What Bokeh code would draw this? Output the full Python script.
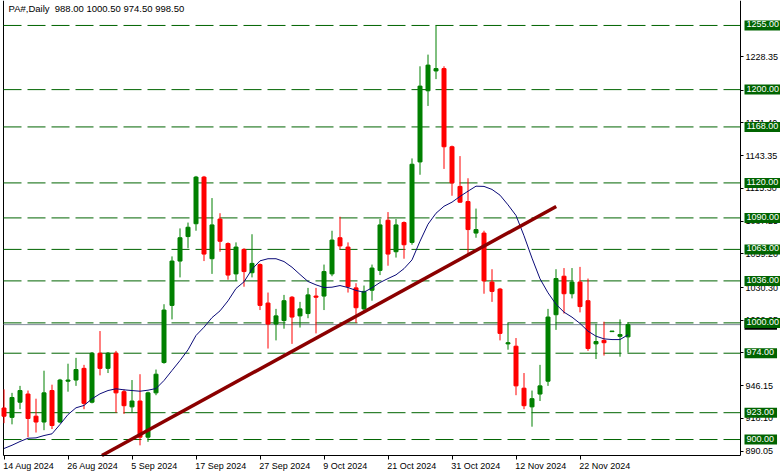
from bokeh.plotting import figure
from bokeh.models import Range1d, FixedTicker, PrintfTickFormatter, Label, ColumnDataSource, LinearAxis
from bokeh.core.properties import value
from bokeh.embed import file_html
from bokeh.resources import INLINE

symbol = "PA#,Daily"
tick_bars = [0, 8, 16, 24, 32, 40, 48, 56, 64, 72]
tick_labels = ["14 Aug 2024", "26 Aug 2024", "5 Sep 2024", "17 Sep 2024", "27 Sep 2024",
               "9 Oct 2024", "21 Oct 2024", "31 Oct 2024", "12 Nov 2024", "22 Nov 2024"]

opens = [927, 919, 932, 939, 920, 915, 942, 915, 950, 951,
         961, 932, 974, 961, 974, 941, 928, 933, 902, 940,
         966, 1015, 1053, 1074, 1085, 1125, 1055, 1089, 1068, 1042,
         1063, 1043, 1050, 1017, 999, 1002, 1022, 1006, 1008, 1023,
         1023, 1042, 1073, 1065, 1030, 1012, 1028, 1045, 1088, 1061,
         1086, 1069, 1138, 1199, 1216, 1218, 1151, 1117, 1104, 1077,
         1077, 1035, 1029, 982, 980, 944, 928, 939, 950, 1007,
         1040, 1025, 1035, 1019, 982, 985, 992.5, 988.5, 988.0]
highs = [943, 940, 946, 942, 935, 959, 947, 952, 965, 970,
         964, 975, 993, 975, 976, 943, 951, 956, 941, 960,
         1016, 1057, 1081, 1086, 1126, 1126, 1107, 1094, 1069, 1069,
         1064, 1076, 1051, 1026, 1012, 1024, 1023, 1018, 1030, 1030,
         1050, 1079, 1091, 1069, 1034, 1032, 1050, 1089, 1095, 1089,
         1087, 1141, 1220, 1230, 1255, 1220, 1152, 1143, 1124, 1098,
         1079, 1046, 1030, 1000, 987, 957, 942, 964, 1012, 1046,
         1047, 1047, 1048, 1038, 999, 1001, 993, 1003, 1000.5]
lows = [914, 913, 926, 902, 906, 908, 909, 914, 941, 946,
        926, 931, 955, 957, 923, 922, 923, 895, 898, 938,
        965, 1003, 1039, 1064, 1079, 1053, 1042, 1061, 1037, 1036,
        1031, 1039, 1011, 978, 985, 995, 982, 996, 1004, 991,
        1011, 1040, 1063, 1026, 1000, 1009, 1019, 1041, 1049, 1056,
        1055, 1067, 1127, 1186, 1209, 1132, 1109, 1103, 1058, 1073,
        1025, 1018, 985, 977, 938, 926, 911, 933, 946, 994,
        1008, 1021, 1009, 976, 969, 972, 992.5, 971, 974.5]
closes = [920, 936, 942, 918, 915, 940, 912, 951, 951, 960,
          931, 974, 961, 974, 940, 929, 933, 902, 940, 956,
          1011, 1053, 1073, 1082, 1125, 1059, 1084, 1070, 1041, 1065,
          1044, 1051, 1015, 999, 1006, 1019, 1005, 1012, 1024, 1022,
          1044, 1071, 1066, 1031, 1013, 1027, 1047, 1084, 1059, 1084,
          1067, 1136, 1203, 1221, 1218, 1151, 1120, 1103.5, 1080, 1080,
          1036, 1027, 991, 983, 946, 929, 935, 946, 1005, 1038,
          1025, 1035, 1014, 978, 984, 983, 993, 990, 998.5]
ma_values = [892.3, 895.1, 898.3, 901.1, 901.4, 903.4, 904.9, 912.9, 921.4, 927.2,
             929.2, 934.9, 939.2, 942.0, 943.5, 942.6, 942.0, 941.4, 942.3, 943.7,
             950.6, 959.2, 967.7, 976.9, 989.2, 996.3, 1004.5, 1010.3, 1018.9, 1029.5,
             1035.2, 1046.0, 1053.2, 1055.0, 1055.0, 1052.6, 1047.7, 1041.5, 1035.5, 1032.6,
             1030.3, 1030.6, 1032.0, 1030.3, 1027.8, 1026.3, 1030.1, 1034.6, 1038.0, 1041.2,
             1046.5, 1054.0, 1070.0, 1084.6, 1094.0, 1100.0, 1103.5, 1108.4, 1112.9, 1117.2,
             1117.0, 1114.4, 1109.5, 1101.2, 1092.1, 1074.7, 1055.5, 1037.8, 1025.8, 1016.0,
             1009.2, 1004.9, 999.5, 992.9, 988.6, 986.3, 985.7, 985.7, 989.8]

levels = [1255, 1200, 1168, 1120, 1090, 1063, 1036, 1000, 974, 923, 900]
price_ticks = [890.05, 918.10, 946.15, 974.20, 1002.25, 1030.30, 1059.20, 1087.25,
               1115.30, 1143.35, 1171.40, 1199.45, 1228.35]
trend_x = [12.24, 69.03]
trend_y = [886.3, 1099.8]

GREEN = "#008000"
RED = "#FF0000"
LEVEL = "#006400"
FONT = "Liberation Sans"

# ---- layout geometry (pixels of the 780x476 canvas) ----
W, H = 780, 476
BAR_PX = 8.0            # one trading day
BAR0_PX = 3.5           # centre of first bar
CHART_LEFT_PX, CHART_RIGHT_PX, CHART_BOTTOM_PX = 3, 740, 455
CHART_TOP, CHART_BOT = 1276.4, 886.3
PX_PER_UNIT = CHART_BOTTOM_PX / (CHART_TOP - CHART_BOT)


def bx(px):
    return (px - BAR0_PX) / BAR_PX


def py(px):
    return CHART_TOP - px / PX_PER_UNIT


XL, XR = bx(CHART_LEFT_PX), bx(CHART_RIGHT_PX)

n = len(opens)
idx = list(range(n))
colors = [GREEN if c >= o else RED for o, c in zip(opens, closes)]
src = ColumnDataSource(dict(i=idx, o=opens, h=highs, l=lows, c=closes, col=colors))

p = figure(width=W, height=H, x_range=Range1d(bx(0), bx(W)), y_range=Range1d(py(H), py(0)),
           x_axis_location=None, y_axis_location=None, toolbar_location=None,
           output_backend="svg", min_border=0, min_border_left=0, min_border_right=0,
           min_border_top=0, min_border_bottom=0,
           background_fill_color="white", border_fill_color="white")
p.outline_line_color = None
p.grid.visible = False

# price axis (right)
ya = LinearAxis(fixed_location=XR, bounds=(CHART_BOT, CHART_TOP),
                ticker=FixedTicker(ticks=price_ticks),
                formatter=PrintfTickFormatter(format="%.2f"))
ya.major_tick_out = 3
ya.major_tick_in = 0
ya.minor_tick_out = 0
ya.minor_tick_in = 0
ya.major_label_standoff = 2
ya.major_label_text_font = FONT
ya.major_label_text_font_size = "9px"
ya.major_label_text_color = "black"
ya.axis_line_color = "black"
p.add_layout(ya, "right")

# time axis (below)
xa = LinearAxis(fixed_location=CHART_BOT, bounds=(XL, XR), ticker=FixedTicker(ticks=tick_bars))
xa.major_label_overrides = {b: "" for b in tick_bars}
xa.major_tick_out = 4
xa.major_tick_in = 0
xa.minor_tick_out = 0
xa.minor_tick_in = 0
xa.axis_line_color = "black"
p.add_layout(xa, "below")

# left chart border
p.segment(x0=[XL], y0=[CHART_BOT], x1=[XL], y1=[CHART_TOP], line_color="black", line_width=1)

# level lines and bid line
p.segment(x0=[XL] * len(levels), y0=levels, x1=[XR] * len(levels), y1=levels,
          line_color=LEVEL, line_width=1, line_dash="18 6")
p.segment(x0=[XL], y0=[closes[-1]], x1=[XR], y1=[closes[-1]], line_color="#7f8b98", line_width=1)

# candles
p.segment(x0="i", y0="l", x1="i", y1="h", color="col", line_width=1, source=src)
p.vbar(x="i", width=0.5, top="o", bottom="c", fill_color="col", line_color="col",
       line_width=1, source=src)

# moving average
p.line(idx, ma_values, line_color="#0b0b78", line_width=1)

# trend line
p.line(trend_x, trend_y, line_color="#8B0000", line_width=3.5)

# price labels on the axis
LX = bx(744)
PAD = (2, 3, 1, 3)
p.add_layout(Label(x=LX, y=closes[-1], text=f"{closes[-1]:.2f}", text_align="left",
                   text_baseline="middle", text_color="white", text_font=FONT,
                   text_font_size="9px", background_fill_color="black", padding=PAD))
for v in levels:
    p.add_layout(Label(x=LX, y=v, text=f"{v:.2f}", text_align="left",
                       text_baseline="middle", text_color="white", text_font=FONT,
                       text_font_size="9px", background_fill_color=LEVEL,
                       padding=PAD))

# date labels
p.text(x=[b - 0.1 for b in tick_bars], y=[py(465)] * len(tick_bars), text=tick_labels,
       text_align="left", text_baseline="middle", text_color="black",
       text_font=value(FONT), text_font_size="9px")

# title
title = f"{symbol}\u00a0 {opens[-1]:.2f} {highs[-1]:.2f} {lows[-1]:.2f} {closes[-1]:.2f}"
p.add_layout(Label(x=bx(8), y=py(8), text=title, text_align="left", text_baseline="middle",
                   text_color="black", text_font=FONT, text_font_size="9.5px"))

open("out.html", "w").write(file_html(p, INLINE))
